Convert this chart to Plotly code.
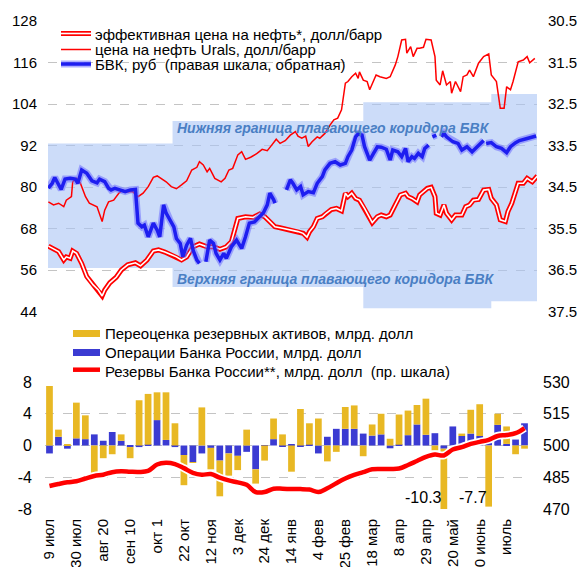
import pandas as pd
import plotly.graph_objects as go

START = pd.Timestamp("2012-07-09")

# ---------------- top panel data ----------------
# effective oil price, USD/bbl (days from START)
eff_days = [-1, 3, 7, 11, 13, 16, 18, 21, 25, 29, 34, 38, 41, 43, 47, 52, 56, 61, 67, 71,
            76, 81, 85, 90, 94, 99, 103, 107, 112, 117, 123, 128, 133, 138, 142, 147, 153, 159, 164, 168,
            172, 176, 180, 185, 190, 194, 198, 201, 203, 206, 209, 213, 216, 220, 224, 228, 231, 233, 236, 239,
            242, 246, 252, 256, 259, 263, 266, 270, 274, 278, 280, 283, 287, 289, 295, 298, 301, 302, 305, 308,
            310, 314, 317, 322, 325, 328, 331, 335, 339, 343, 345, 349, 352, 356, 358, 361, 366, 370, 373, 377, 381]
eff_price = [62.9, 62.0, 61.3, 58.9, 59.8, 59.4, 61.5, 60.8, 57.9, 54.1, 51.7, 50.2, 48.5, 50.2, 52.3, 53.9, 56.0, 57.5, 58.1, 57.2,
             58.9, 61.5, 61.8, 61.2, 60.6, 59.8, 58.9, 59.8, 62.7, 63.5, 62.7, 62.7, 62.0, 62.7, 64.2, 70.9, 71.4, 71.2, 72.2, 71.4,
             70.0, 68.5, 68.2, 67.8, 67.6, 67.1, 66.6, 65.5, 67.1, 68.5, 70.9, 71.4, 72.4, 73.5, 73.8, 73.1, 78.2, 77.2, 78.2, 76.7,
             76.2, 73.8, 69.7, 71.4, 71.9, 71.4, 71.9, 74.8, 77.7, 78.2, 77.2, 76.7, 75.7, 77.7, 79.6, 79.9, 77.2, 72.4, 71.9, 74.8,
             72.4, 70.5, 71.9, 71.9, 74.3, 74.8, 76.2, 76.4, 79.1, 79.3, 76.7, 74.8, 70.5, 70.0, 72.9, 75.3, 81.1, 81.1, 82.5, 81.5, 83.2]

# Urals price, USD/bbl
urals_days = [-1, 3, 7, 11, 13, 17, 18, 21, 24, 28, 31, 37, 41, 43, 46, 50, 54, 57, 61, 65,
              69, 73, 77, 81, 84, 88, 91, 95, 99, 103, 107, 111, 115, 117, 120, 123, 125, 129, 134, 137,
              140, 143, 147, 150, 153, 157, 162, 166, 170, 173, 177, 180, 184, 188, 192, 194, 197, 200, 202, 205,
              209, 211, 215, 219, 222, 225, 228, 231, 233, 236, 239, 241, 242, 245, 248, 250, 253, 255, 258, 263,
              266, 270, 272, 275, 278, 279, 282, 284, 287, 289, 292, 294, 298, 301, 302, 305, 307, 310, 313, 314,
              317, 321, 323, 326, 328, 331, 335, 339, 343, 345, 349, 352, 355, 357, 360, 362, 366, 370, 373, 375, 379]
urals_price = [75.7, 74.8, 75.3, 74.3, 76.2, 77.2, 81.5, 82.5, 81.1, 77.2, 75.3, 74.3, 70.0, 73.3, 75.7, 76.2, 78.2, 79.1, 78.6, 78.6,
               77.2, 78.2, 80.1, 82.8, 83.2, 82.2, 81.5, 80.1, 79.5, 80.6, 81.8, 84.9, 85.7, 87.3, 86.4, 84.4, 85.4, 82.5, 81.5, 82.5,
               84.9, 85.4, 89.3, 90.2, 88.0, 88.6, 89.7, 90.9, 90.5, 91.9, 93.8, 92.6, 93.4, 95.0, 96.0, 94.7, 94.1, 94.7, 91.7, 93.1,
               94.5, 94.1, 95.5, 97.9, 99.4, 99.9, 102.3, 110.0, 110.5, 111.9, 112.9, 111.4, 113.3, 110.9, 110.5, 108.1, 110.5, 112.4, 111.9, 111.4,
               111.9, 115.3, 117.7, 122.5, 122.7, 118.7, 120.6, 117.7, 120.1, 120.1, 120.4, 122.7, 122.5, 117.7, 110.9, 109.5, 113.6, 109.5, 110.5, 107.1,
               110.5, 107.6, 111.9, 112.4, 113.8, 111.9, 115.8, 117.7, 118.5, 112.4, 110.5, 102.8, 102.8, 109.0, 108.1, 110.5, 116.2, 116.7, 117.7, 115.9, 117.2]

# BVK (currency basket), RUB (None = gap)
bvk_days = [-1, 2, 4, 7, 9, 12, 16, 20, 22, 25, 29, 33, 37, 39, 43, 46, 48, 51, 55, 59,
            63, 67, 69, 72, 74, 77, 81, 84, 86, 89, 91, 94, 97, 99, 102, 104, 107, 110, 112, 115,
            117, 119, 122, 125, 128, 130, 133, 136, 138, 142, 146, 150, 153, 156, 160, 164, 167, 170, 172, 175,
            176, 180, 185, 188, 190, 193, 196, 198, 202, 206, 209, 213, 215, 219, 223, 227, 231, 233, 236, 239,
            241, 244, 246, 250, 253, 256, 259, 263, 266, 268, 272, 275, 278, 280, 283, 285, 288, 291, 293, 296,
            297, 299, 302, 303, 306, 308, 310, 313, 315, 319, 322, 326, 330, 334, 339, 340, 341, 345, 349, 353,
            357, 360, 364, 367, 373, 377, 380]
bvk_rub = [34.53, 34.41, 34.27, 34.45, 34.56, 34.31, 34.29, 34.31, 34.41, 34.09, 34.17, 34.35, 34.40, 34.31, 34.37, 34.53, 34.57, 34.53, 34.56, 34.61,
           34.57, 34.56, 35.37, 35.46, 35.42, 35.70, 35.37, 35.54, 35.70, 34.93, 35.13, 35.30, 35.46, 35.74, 35.86, 36.18, 35.90, 35.74, 36.02, 36.26,
           36.34, None, 36.30, 35.78, 35.86, 36.10, 36.26, 36.10, 36.22, 35.94, 35.78, 35.98, 35.70, 35.37, 35.34, 35.22, 35.12, 34.93, 34.65, 34.81,
           34.89, None, 34.57, 34.33, 34.41, 34.57, 34.49, 34.69, 34.61, 34.64, 34.41, 34.25, 34.09, 33.93, 33.89, 33.97, 33.93, 33.77, 33.61, 33.29,
           33.22, 33.25, 33.53, 33.85, 33.69, 33.53, 33.54, 33.59, 33.85, 33.61, 33.65, 33.77, 33.57, 33.89, 33.77, 33.81, 33.69, 33.77, 33.57, 33.49,
           None, 33.29, 33.25, None, 33.29, 33.21, 33.29, 33.35, 33.41, 33.45, 33.61, 33.53, 33.65, 33.53, 33.38, None, 33.45, 33.43, 33.53, 33.57,
           33.67, 33.53, 33.43, 33.38, 33.33, 33.30, 33.27]

# floating corridor of BVK, RUB (step changes)
corr_days = [-3, 96, 245, 345, 383]
corr_lower_bound = [33.45, 32.91, 32.46, 32.26, 32.26]   # "Нижняя граница"
corr_upper_bound = [36.45, 36.91, 37.42, 37.25, 37.25]   # "Верхняя граница"

# ---------------- bottom panel data ----------------
n_weeks = 54
operations = [-1.0, 1.1, -0.4, 0.9, 0.8, 1.4, 0.6, 1.7, 0.6, -0.2,
              -0.2, 0.1, 3.2, 0.7, -0.2, -1.2, -2.1, -1.0, -0.3, -1.9,
              -1.0, -1.3, -0.8, -3.0, 0.05, 0.8, -0.15, 0.1, -0.15, 0.1,
              -1.0, 1.1, 2.1, 2.1, 2.1, 1.5, 1.25, 1.4, -0.35, 0.1,
              1.3, 2.65, 1.35, 1.55, -0.4, 2.4, 1.2, 1.5, 1.2, 0.3,
              2.6, 0.2, 0.75, 2.8]
revaluation = [7.5, 0.9, 0.1, 4.5, 3.0, -3.5, -1.6, -1.1, 0.8, -1.4,
               5.7, 6.4, 3.5, 6.0, 2.8, -3.8, -0.1, 4.8, -2.7, -4.5,
               -2.8, -1.8, 2.0, -1.8, -1.9, 2.6, 1.4, -3.3, 4.6, 2.7,
               3.4, -2.0, -0.8, 2.75, 2.95, -1.35, 1.4, 2.6, 0.85, 3.8,
               3.1, 2.45, 4.55, -0.6, -10.3, 0.0, 0.3, 3.0, 4.0, -7.7,
               1.4, 2.2, -1.1, -0.4]
reserves = [480.9, 481.8, 482.6, 483.1, 484.4, 485.6, 486.2, 487.4, 487.8, 487.6,
            487.5, 488.0, 491.0, 491.8, 491.2, 489.3, 487.1, 486.2, 486.5, 484.8,
            483.5, 482.6, 481.4, 478.0, 478.0, 479.6, 479.6, 479.4, 479.4, 479.2,
            478.0, 479.8, 482.2, 484.4, 486.1, 487.4, 488.75, 488.9, 488.9, 489.1,
            490.8, 492.7, 494.6, 495.7, 495.3, 498.1, 499.25, 500.75, 501.7, 502.7,
            504.5, 504.95, 505.8, 508.25]
week_labels = ["9 июл", "30 июл", "авг 20", "сен 10", "окт 1", "22 окт", "12 ноя", "3 дек", "24 дек",
               "14 янв", "4 фев", "25 фев", "18 мар", "8 апр", "29 апр", "20 май", "10 июнь", "июль"]
value_labels = {44: "-10.3", 49: "-7.7"}

# ---------------- helpers ----------------
W, H = 579, 567
FONT = "Liberation Sans, Arial, sans-serif"


def d(days):
    return [START + pd.Timedelta(days=float(v)) for v in days]


def fx(px):
    return px / W


def fy(py):
    return 1 - py / H


weeks = list(pd.date_range(START, periods=n_weeks, freq="7D"))

RED = "#FF0000"
BLUE_LINE = "#1E1EF0"
GOLD = "#E8B824"
BLUE_BAR = "#3B3BD2"
BAND = "rgba(170,196,245,0.6)"
LABEL_BLUE = "#4A7FC4"

fig = go.Figure()

# corridor band (rubles, main top axis y)
fig.add_trace(go.Scatter(x=d(corr_days), y=corr_lower_bound, mode="lines", line=dict(width=0, shape="hv"),
                         xaxis="x", yaxis="y", showlegend=False, hoverinfo="skip"))
fig.add_trace(go.Scatter(x=d(corr_days), y=corr_upper_bound, mode="lines", line=dict(width=0, shape="hv"),
                         fill="tonexty", fillcolor=BAND, xaxis="x", yaxis="y", showlegend=False, hoverinfo="skip"))
# effective price (double line), USD axis y2
fig.add_trace(go.Scatter(x=d(eff_days), y=eff_price, mode="lines", line=dict(color=RED, width=5),
                         xaxis="x", yaxis="y2", showlegend=False))
fig.add_trace(go.Scatter(x=d(eff_days), y=eff_price, mode="lines", line=dict(color="white", width=1.6),
                         xaxis="x", yaxis="y2", showlegend=False))
# Urals
fig.add_trace(go.Scatter(x=d(urals_days), y=urals_price, mode="lines", line=dict(color=RED, width=1.5),
                         xaxis="x", yaxis="y2", showlegend=False))
# BVK, rubles axis with labels (y5)
fig.add_trace(go.Scatter(x=d(bvk_days), y=bvk_rub, mode="lines", line=dict(color="rgba(110,110,255,0.55)", width=7),
                         xaxis="x", yaxis="y5", showlegend=False))
fig.add_trace(go.Scatter(x=d(bvk_days), y=bvk_rub, mode="lines", line=dict(color=BLUE_LINE, width=3.5),
                         xaxis="x", yaxis="y5", showlegend=False))

# bottom bars (main bottom axis y3)
fig.add_trace(go.Bar(x=weeks, y=operations, marker=dict(color=BLUE_BAR, line=dict(width=0)),
                     xaxis="x2", yaxis="y3", showlegend=False))
fig.add_trace(go.Bar(x=weeks, y=revaluation, marker=dict(color=GOLD, line=dict(width=0)),
                     xaxis="x2", yaxis="y3", showlegend=False))
# reserves line (right axis y4)
fig.add_trace(go.Scatter(x=weeks, y=reserves, mode="lines", line=dict(color="white", width=8, shape="spline"),
                         xaxis="x2", yaxis="y4", showlegend=False))
fig.add_trace(go.Scatter(x=weeks, y=reserves, mode="lines", line=dict(color=RED, width=4.5, shape="spline"),
                         xaxis="x2", yaxis="y4", showlegend=False))
# invisible carrier so the left label axis (y6) of the bar scale is drawn
fig.add_trace(go.Scatter(x=weeks, y=operations, mode="markers", marker=dict(opacity=0, size=1),
                         xaxis="x2", yaxis="y6", showlegend=False, hoverinfo="skip"))

tickfont15 = dict(family=FONT, size=15, color="black")
tickfont16 = dict(family=FONT, size=16, color="black")
grid = dict(showgrid=True, gridcolor="#C4C4C4", griddash="dash", gridwidth=1)
nogrid = dict(showgrid=False)
noline = dict(zeroline=False, showline=False, automargin=False)

usd_ticks = list(range(44, 129, 12))
rub_ticks = [30.5, 31.5, 32.5, 33.5, 34.5, 35.5, 36.5, 37.5]
bar_ticks = [-8, -4, 0, 4, 8]
res_ticks = [470, 485, 500, 515, 530]

fig.update_layout(
    width=W, height=H, margin=dict(l=0, r=0, t=0, b=0, pad=0, autoexpand=False),
    paper_bgcolor="white", plot_bgcolor="rgba(0,0,0,0)",
    showlegend=False, barmode="relative", bargap=0.25,
    font=dict(family=FONT, color="black"),
    xaxis=dict(domain=[fx(48), fx(537)], type="date",
               range=[str(START + pd.Timedelta(days=-1.3)), str(START + pd.Timedelta(days=380.7))],
               showticklabels=False, showgrid=False, anchor="y", **noline),
    # main top axis: rubles scale, carries the gridlines only
    yaxis=dict(domain=[fy(311.5), fy(21)], range=[37.5, 30.5], side="right", anchor="x",
               tickvals=rub_ticks, showticklabels=False, **grid, **noline),
    yaxis2=dict(overlaying="y", side="left", anchor="x", range=[44, 128],
                tickvals=usd_ticks, ticktext=[str(v) for v in usd_ticks], tickfont=tickfont15,
                ticklabelstandoff=10, **nogrid, **noline),
    yaxis5=dict(overlaying="y", side="right", anchor="x", range=[37.5, 30.5],
                tickvals=rub_ticks, ticktext=[f"{v:.1f}" for v in rub_ticks], tickfont=tickfont15,
                ticklabelstandoff=10, **nogrid, **noline),
    xaxis2=dict(domain=[fx(45), fx(529)], type="date", anchor="y3",
                range=[str(START + pd.Timedelta(days=-3.5)), str(START + pd.Timedelta(days=374.5))],
                tickvals=weeks[::3], ticktext=week_labels, tickangle=-90, tickfont=tickfont15,
                ticklabelstandoff=6, showgrid=False, **noline),
    # main bottom axis: bar scale, carries the gridlines only
    yaxis3=dict(domain=[fy(509), fy(382)], range=[-8, 8], anchor="x2",
                tickvals=bar_ticks, showticklabels=False, **grid, **noline),
    yaxis4=dict(overlaying="y3", side="right", anchor="x2", range=[470, 530],
                tickvals=res_ticks, ticktext=[str(v) for v in res_ticks], tickfont=tickfont16,
                ticklabelstandoff=13, **nogrid, **noline),
    yaxis6=dict(overlaying="y3", side="left", anchor="x2", range=[-8, 8],
                tickvals=bar_ticks, ticktext=[str(v) for v in bar_ticks], tickfont=tickfont16,
                ticklabelstandoff=12, **nogrid, **noline),
)

annotations = []
shapes = []

# top legend
leg_top = [("эффективная цена на нефть*, долл/барр", 34.5),
           ("цена на нефть Urals, долл/барр", 49.5),
           ("БВК, руб  (правая шкала, обратная)", 64.0)]
for txt, yy in leg_top:
    annotations.append(dict(text=txt, xref="paper", yref="paper", x=fx(93), y=fy(yy), xanchor="left",
                            yanchor="middle", showarrow=False, font=dict(family=FONT, size=15, color="black")))
shapes += [
    dict(type="line", xref="paper", yref="paper", x0=fx(61), x1=fx(91), y0=fy(33.5), y1=fy(33.5), line=dict(color=RED, width=5)),
    dict(type="line", xref="paper", yref="paper", x0=fx(61), x1=fx(91), y0=fy(33.5), y1=fy(33.5), line=dict(color="white", width=1.6)),
    dict(type="line", xref="paper", yref="paper", x0=fx(61), x1=fx(91), y0=fy(49.5), y1=fy(49.5), line=dict(color=RED, width=1.5)),
    dict(type="line", xref="paper", yref="paper", x0=fx(61), x1=fx(91), y0=fy(64), y1=fy(64), line=dict(color="rgba(110,110,255,0.55)", width=7)),
    dict(type="line", xref="paper", yref="paper", x0=fx(61), x1=fx(91), y0=fy(64), y1=fy(64), line=dict(color=BLUE_LINE, width=3.5)),
]

# bottom legend
leg_bot = [("Переоценка резервных активов, млрд. долл", 333.5),
           ("Операции Банка России, млрд. долл", 352.3),
           ("Резервы Банка России**, млрд. долл  (пр. шкала)", 371.0)]
for txt, yy in leg_bot:
    annotations.append(dict(text=txt, xref="paper", yref="paper", x=fx(102.5), y=fy(yy), xanchor="left",
                            yanchor="middle", showarrow=False, font=dict(family=FONT, size=15, color="black")))
shapes += [
    dict(type="rect", xref="paper", yref="paper", x0=fx(73), x1=fx(100), y0=fy(337), y1=fy(330), fillcolor=GOLD, line=dict(width=0)),
    dict(type="rect", xref="paper", yref="paper", x0=fx(73), x1=fx(100), y0=fy(356), y1=fy(349), fillcolor=BLUE_BAR, line=dict(width=0)),
    dict(type="line", xref="paper", yref="paper", x0=fx(73), x1=fx(100), y0=fy(369.7), y1=fy(369.7), line=dict(color=RED, width=4.5)),
]

# corridor labels
annotations.append(dict(text="<b><i>Нижняя граница плавающего коридора БВК</i></b>", xref="paper", yref="paper",
                        x=fx(175), y=fy(128), xanchor="left", yanchor="middle", showarrow=False,
                        font=dict(family=FONT, size=14, color=LABEL_BLUE)))
annotations.append(dict(text="<b><i>Верхняя граница плавающего коридора БВК</i></b>", xref="paper", yref="paper",
                        x=fx(175), y=fy(279), xanchor="left", yanchor="middle", showarrow=False,
                        font=dict(family=FONT, size=14, color=LABEL_BLUE)))

# bar value labels
for idx, txt in value_labels.items():
    annotations.append(dict(text=txt, xref="x2", yref="y3", x=weeks[idx], y=-6.55, xanchor="right",
                            yanchor="middle", showarrow=False, font=dict(family=FONT, size=16, color="black")))

fig.update_layout(annotations=annotations, shapes=shapes)
fig.write_html(
    "out.html",
    config={"displayModeBar": False},
    post_script="document.body.style.margin='0px';document.body.style.padding='0px';"
                "document.body.style.overflow='hidden';document.documentElement.style.overflow='hidden';",
)
